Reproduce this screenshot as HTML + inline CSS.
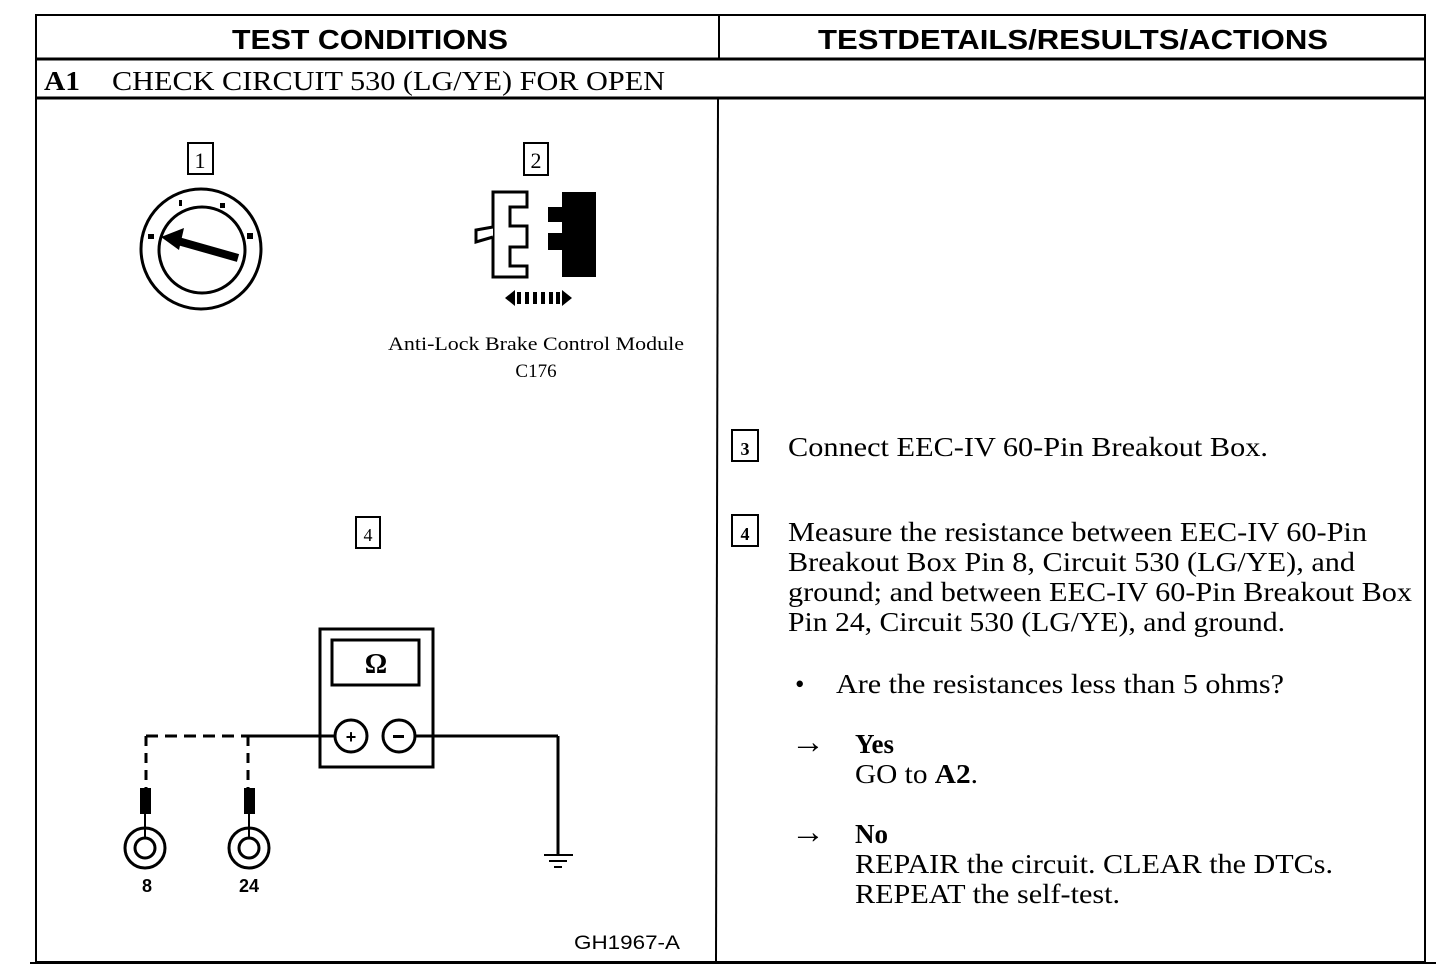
<!DOCTYPE html>
<html><head><meta charset="utf-8"><style>
html,body{margin:0;padding:0;background:#fff;}
svg{display:block;}
.s{font-family:"Liberation Serif",serif;fill:#000;}
.h{font-family:"Liberation Sans",sans-serif;font-weight:bold;fill:#000;}
</style></head><body>
<svg width="1456" height="974" viewBox="0 0 1456 974" xmlns="http://www.w3.org/2000/svg">
<g stroke="#000" fill="none">
  <rect x="36" y="15" width="1389" height="947" stroke-width="2"/>
  <line x1="30" y1="963" x2="1436" y2="963" stroke-width="2"/>
  <line x1="36" y1="59" x2="1425" y2="59" stroke-width="3"/>
  <line x1="36" y1="98" x2="1425" y2="98" stroke-width="3"/>
  <line x1="719" y1="15" x2="719" y2="59" stroke-width="2"/>
  <line x1="718" y1="98" x2="716" y2="962" stroke-width="2"/>
</g>
<text class="h" x="232" y="49" font-size="28" textLength="276" lengthAdjust="spacingAndGlyphs">TEST CONDITIONS</text>
<text class="h" x="818" y="49" font-size="28" textLength="510" lengthAdjust="spacingAndGlyphs">TESTDETAILS/RESULTS/ACTIONS</text>
<text class="s" x="44" y="90" font-size="27" font-weight="bold" textLength="36" lengthAdjust="spacingAndGlyphs">A1</text>
<text class="s" x="112" y="90" font-size="27" textLength="553" lengthAdjust="spacingAndGlyphs">CHECK CIRCUIT 530 (LG/YE) FOR OPEN</text>

<g stroke="#000" fill="none" stroke-width="2">
  <rect x="188" y="143" width="25" height="31"/>
  <rect x="524" y="143" width="24" height="32"/>
  <rect x="356" y="517" width="24" height="31"/>
  <rect x="732" y="430" width="26" height="31"/>
  <rect x="732" y="515" width="26" height="31"/>
</g>
<text class="s" x="200" y="168" font-size="22" text-anchor="middle">1</text>
<text class="s" x="536" y="168" font-size="22" text-anchor="middle">2</text>
<text class="s" x="368" y="541" font-size="18" text-anchor="middle">4</text>
<text class="s" x="745" y="455" font-size="18" font-weight="bold" text-anchor="middle">3</text>
<text class="s" x="745" y="540" font-size="18" font-weight="bold" text-anchor="middle">4</text>

<g stroke="#000" fill="none" stroke-width="3">
  <circle cx="201" cy="249" r="60"/>
  <circle cx="202" cy="250" r="43"/>
</g>
<line x1="238" y1="258" x2="178" y2="241" stroke="#000" stroke-width="8"/>
<polygon points="161,237 184,228 179,250" fill="#000"/>
<rect x="148" y="234" width="6" height="5" fill="#000"/>
<rect x="179" y="200" width="3" height="6" fill="#000"/>
<rect x="220" y="203" width="5" height="5" fill="#000"/>
<rect x="247" y="233" width="6" height="6" fill="#000"/>

<path d="M493,192 H527 V207 H510 V226 H527 V247 H510 V266 H527 V277 H493 Z" fill="#fff" stroke="#000" stroke-width="3"/>
<path d="M493,227 L476,230 L476,242 L493,237" fill="#fff" stroke="#000" stroke-width="3"/>
<path d="M562,192 H596 V277 H562 V250 H548 V233 H562 V222 H548 V207 H562 Z" fill="#000"/>
<polygon points="505,298 515,290 515,306" fill="#000"/>
<polygon points="572,298 562,290 562,306" fill="#000"/>
<g fill="#000"><rect x="517" y="292" width="4" height="12"/><rect x="525" y="292" width="4" height="12"/><rect x="533" y="292" width="4" height="12"/><rect x="541" y="292" width="4" height="12"/><rect x="549" y="292" width="4" height="12"/><rect x="556" y="292" width="4" height="12"/></g>
<text class="s" x="536" y="350" font-size="19" text-anchor="middle" textLength="296" lengthAdjust="spacingAndGlyphs">Anti-Lock Brake Control Module</text>
<text class="s" x="536" y="377" font-size="19" text-anchor="middle">C176</text>

<g stroke="#000" fill="none" stroke-width="3">
  <rect x="320" y="629" width="113" height="138"/>
  <rect x="332" y="640" width="87" height="45"/>
  <circle cx="351" cy="736" r="16"/>
  <circle cx="399" cy="736" r="16"/>
  <line x1="245" y1="736" x2="335" y2="736"/>
  <line x1="415" y1="736" x2="558" y2="736"/>
  <line x1="558" y1="736" x2="558" y2="855"/>
  <line x1="544" y1="855" x2="573" y2="855" stroke-width="2"/>
  <line x1="549" y1="861" x2="567" y2="861" stroke-width="2"/>
  <line x1="554" y1="867" x2="562" y2="867" stroke-width="2"/>
  <path d="M146,736 H245" stroke-dasharray="12,7"/>
  <path d="M146,736 V790" stroke-dasharray="10,7"/>
  <path d="M248,736 V790" stroke-dasharray="10,7"/>
  <circle cx="145" cy="848" r="20"/>
  <circle cx="145" cy="848" r="10"/>
  <circle cx="249" cy="848" r="20"/>
  <circle cx="249" cy="848" r="10"/>
  <line x1="145" y1="812" x2="145" y2="838" stroke-width="2"/>
  <line x1="249" y1="812" x2="249" y2="838" stroke-width="2"/>
</g>
<rect x="140" y="788" width="11" height="26" fill="#000"/>
<rect x="244" y="788" width="11" height="26" fill="#000"/>
<text class="s" x="376" y="673" font-size="28" font-weight="bold" text-anchor="middle">Ω</text>
<text class="h" x="351" y="743" font-size="18" text-anchor="middle">+</text>
<rect x="393" y="735" width="11" height="3" fill="#000"/>
<text class="h" x="147" y="892" font-size="18" text-anchor="middle">8</text>
<text class="h" x="249" y="892" font-size="18" text-anchor="middle">24</text>
<text class="s" x="574" y="949" font-size="19" textLength="106" lengthAdjust="spacingAndGlyphs" style="font-family:'Liberation Sans',sans-serif">GH1967-A</text>

<g class="s" font-size="27">
  <text x="788" y="456" textLength="480" lengthAdjust="spacingAndGlyphs">Connect EEC-IV 60-Pin Breakout Box.</text>
  <text x="788" y="541" textLength="579" lengthAdjust="spacingAndGlyphs">Measure the resistance between EEC-IV 60-Pin</text>
  <text x="788" y="571" textLength="567" lengthAdjust="spacingAndGlyphs">Breakout Box Pin 8, Circuit 530 (LG/YE), and</text>
  <text x="788" y="601" textLength="624" lengthAdjust="spacingAndGlyphs">ground; and between EEC-IV 60-Pin Breakout Box</text>
  <text x="788" y="631" textLength="497" lengthAdjust="spacingAndGlyphs">Pin 24, Circuit 530 (LG/YE), and ground.</text>
  <text x="795" y="693">•</text>
  <text x="836" y="693" textLength="448" lengthAdjust="spacingAndGlyphs">Are the resistances less than 5 ohms?</text>
  <text x="791" y="753" font-size="34" textLength="34" lengthAdjust="spacingAndGlyphs">→</text>
  <text x="855" y="753" font-weight="bold">Yes</text>
  <text x="855" y="783" textLength="123" lengthAdjust="spacingAndGlyphs">GO to <tspan font-weight="bold">A2</tspan>.</text>
  <text x="791" y="843" font-size="34" textLength="34" lengthAdjust="spacingAndGlyphs">→</text>
  <text x="855" y="843" font-weight="bold">No</text>
  <text x="855" y="873" textLength="478" lengthAdjust="spacingAndGlyphs">REPAIR the circuit. CLEAR the DTCs.</text>
  <text x="855" y="903" textLength="265" lengthAdjust="spacingAndGlyphs">REPEAT the self-test.</text>
</g>
</svg>
</body></html>
